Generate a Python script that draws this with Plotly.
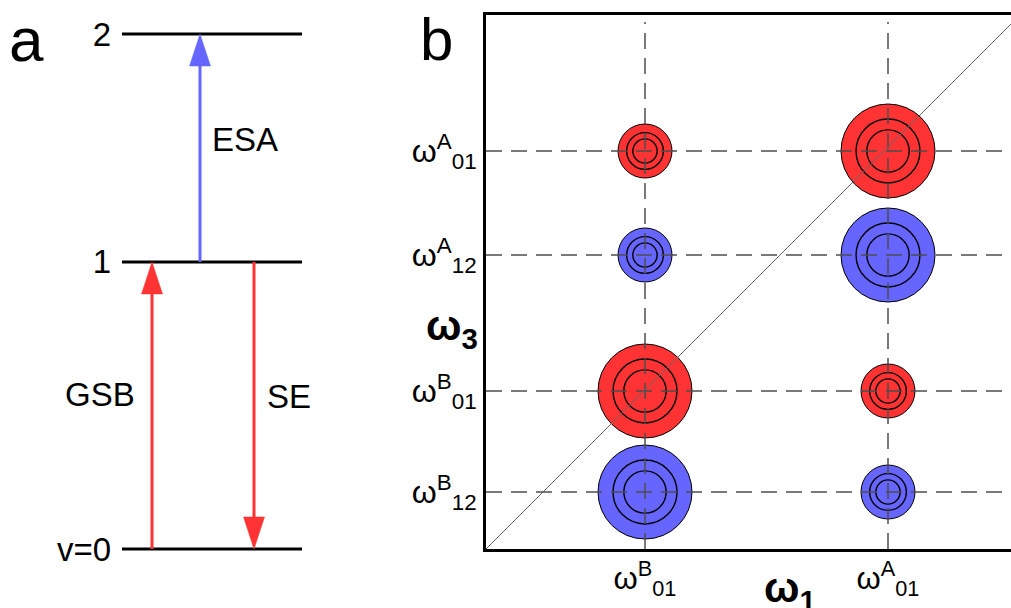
import plotly.graph_objects as go

# ---------------- Panel a: energy levels ----------------
level_energy = [0.0, 1.0, 1.794]
level_labels = ["v=0", "1", "2"]
level_x_span = [122, 302]

trans_names = ["GSB", "ESA", "SE"]
trans_x = [152, 200, 254]
trans_from = [0, 1, 1]
trans_to = [1, 2, 0]
trans_color = ["#ff3333", "#6666ff", "#ff3333"]
trans_label_x = [137, 210, 265]
trans_label_anchor = ["right", "left", "left"]
trans_label_y = [0.537, 1.425, 0.530]

# ---------------- Panel b: 2D spectrum ----------------
w1_ticks = [1.59, 4.02]
w1_labels = ["ω<sup>B</sup><sub>01</sub>", "ω<sup>A</sup><sub>01</sub>"]
w3_ticks = [3.98, 2.94, 1.58, 0.57]
w3_labels = ["ω<sup>A</sup><sub>01</sub>", "ω<sup>A</sup><sub>12</sub>",
             "ω<sup>B</sup><sub>01</sub>", "ω<sup>B</sup><sub>12</sub>"]

peak_w1 = [1.59, 4.02, 1.59, 4.02, 1.59, 4.02, 1.59, 4.02]
peak_w3 = [3.98, 3.98, 2.94, 2.94, 1.58, 1.58, 0.57, 0.57]
peak_sign = [1, 1, -1, -1, 1, 1, -1, -1]
peak_size = [0.27, 0.47, 0.27, 0.47, 0.47, 0.27, 0.47, 0.27]
contour_levels = [1.0, 0.68, 0.45]

RED = "#ff3333"
BLUE = "#6666ff"
FONT = "Liberation Sans, Arial, sans-serif"

W, H = 1011, 608

fig = go.Figure()
shapes = []
annotations = []

# ---- panel a shapes ----
px_per_unit_a = 287.0
head_len = 32 / px_per_unit_a
head_hw = 10.5

for e in level_energy:
    shapes.append(dict(type="line", xref="x2", yref="y2",
                       x0=level_x_span[0], x1=level_x_span[1], y0=e, y1=e,
                       line=dict(color="black", width=3)))

for name, x, f, t, c, lx, la, ly in zip(trans_names, trans_x, trans_from, trans_to,
                                        trans_color, trans_label_x, trans_label_anchor,
                                        trans_label_y):
    y0 = level_energy[f]
    y1 = level_energy[t]
    d = 1 if y1 > y0 else -1
    ybase = y1 - d * head_len
    shapes.append(dict(type="line", xref="x2", yref="y2",
                       x0=x, x1=x, y0=y0, y1=ybase,
                       line=dict(color=c, width=3)))
    shapes.append(dict(type="path", xref="x2", yref="y2",
                       path=f"M {x-head_hw},{ybase} L {x+head_hw},{ybase} L {x},{y1} Z",
                       fillcolor=c, line=dict(color=c, width=0.5)))
    annotations.append(dict(xref="x2", yref="y2", x=lx, y=ly, text=name,
                            showarrow=False, font=dict(size=33, color="black", family=FONT),
                            xanchor=la, yanchor="middle"))

fig.add_trace(go.Scatter(x=[level_x_span[0]], y=[0], xaxis="x2", yaxis="y2",
                         mode="markers", marker=dict(opacity=0), showlegend=False,
                         hoverinfo="skip"))

# ---- panel b shapes ----
for cx, cy, s, r in zip(peak_w1, peak_w3, peak_sign, peak_size):
    col = RED if s > 0 else BLUE
    for i, lv in enumerate(contour_levels):
        rr = r * lv
        shapes.append(dict(type="circle", xref="x", yref="y",
                           x0=cx - rr, x1=cx + rr, y0=cy - rr, y1=cy + rr,
                           fillcolor=col if i == 0 else "rgba(0,0,0,0)",
                           line=dict(color="black", width=1 if i == 0 else 1.4),
                           layer="above"))

x_max = 5.25
y_max = 5.345
for xv in w1_ticks:
    shapes.append(dict(type="line", xref="x", yref="y", x0=xv, x1=xv, y0=0, y1=5.27,
                       line=dict(color="#4d4d4d", width=1.5, dash="16px,9px"),
                       layer="above"))
for yv in w3_ticks:
    shapes.append(dict(type="line", xref="x", yref="y", x0=0, x1=x_max, y0=yv, y1=yv,
                       line=dict(color="#4d4d4d", width=1.5, dash="16px,9px"),
                       layer="above"))
shapes.append(dict(type="line", xref="x", yref="y", x0=0, y0=0, x1=x_max, y1=x_max,
                   line=dict(color="#666666", width=1), layer="above"))

fig.add_trace(go.Scatter(x=peak_w1, y=peak_w3, mode="markers",
                         marker=dict(opacity=0), showlegend=False, hoverinfo="skip"))

# labels
annotations.append(dict(xref="paper", yref="paper", x=26 / W, y=1 - 40 / H,
                        text="a", showarrow=False, xanchor="center", yanchor="middle",
                        font=dict(size=62, color="black", family=FONT)))
annotations.append(dict(xref="paper", yref="paper", x=436 / W, y=1 - 40 / H,
                        text="b", showarrow=False, xanchor="center", yanchor="middle",
                        font=dict(size=60, color="black", family=FONT)))
annotations.append(dict(xref="paper", yref="paper", x=452 / W, y=1 - 328 / H,
                        text="<b>ω<sub>3</sub></b>", showarrow=False,
                        xanchor="center", yanchor="middle",
                        font=dict(size=42, color="black", family=FONT)))
annotations.append(dict(xref="paper", yref="paper", x=790 / W, y=1 - 590 / H,
                        text="<b>ω<sub>1</sub></b>", showarrow=False,
                        xanchor="center", yanchor="middle",
                        font=dict(size=42, color="black", family=FONT)))

fig.update_layout(
    width=W, height=H,
    margin=dict(l=0, r=0, t=0, b=0),
    paper_bgcolor="white", plot_bgcolor="rgba(0,0,0,0)",
    showlegend=False,
    font=dict(family=FONT, color="black"),
    shapes=shapes,
    annotations=annotations,
    xaxis=dict(domain=[486 / W, 1.0], range=[0, x_max], showgrid=False, zeroline=False,
               showline=True, linewidth=3, linecolor="black", mirror=True,
               ticks="", tickvals=w1_ticks, ticktext=w1_labels,
               tickfont=dict(size=31, family=FONT, color="black"),
               fixedrange=True, anchor="y"),
    yaxis=dict(domain=[(H - 549) / H, (H - 14.5) / H], range=[0, y_max], showgrid=False,
               zeroline=False, showline=True, linewidth=3, linecolor="black",
               ticks="", tickvals=w3_ticks, ticktext=w3_labels,
               tickfont=dict(size=32, family=FONT, color="black"),
               fixedrange=True, anchor="x"),
    xaxis2=dict(domain=[112 / W, 320 / W], range=[112, 320], visible=False,
                anchor="y2", fixedrange=True),
    yaxis2=dict(domain=[0, 1], range=[-59 / px_per_unit_a, 1.794 + 34 / px_per_unit_a],
                showgrid=False, zeroline=False, showline=False, ticks="",
                tickvals=level_energy, ticktext=level_labels,
                tickfont=dict(size=33, family=FONT, color="black"),
                anchor="x2", fixedrange=True),
)

fig.write_html("out.html")
